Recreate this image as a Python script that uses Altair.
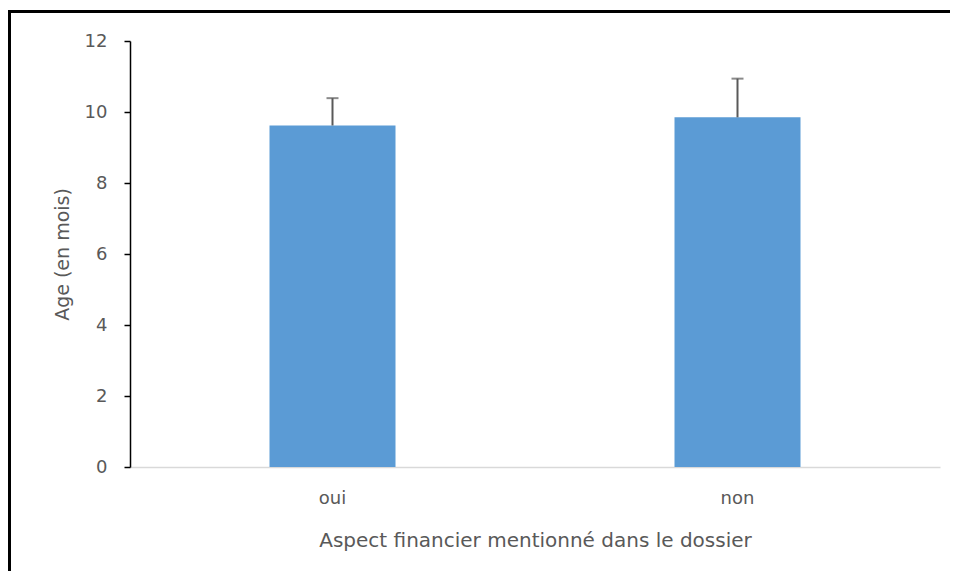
import altair as alt
import pandas as pd

categories = ["oui", "non"]
means = [9.62, 9.85]
errors = [0.77, 1.09]

df = pd.DataFrame({
    "cat": categories,
    "mean": means,
    "upper": [m + e for m, e in zip(means, errors)],
})

FONT = "DejaVu Sans"
GRAY = "#595959"

xenc = alt.X("cat:N", sort=categories, scale=alt.Scale(paddingInner=0, paddingOuter=0),
             axis=alt.Axis(title="Aspect financier mentionné dans le dossier", labelAngle=0,
                           domainColor="#d9d9d9", domainWidth=1.5, ticks=False,
                           labelColor=GRAY, labelFontSize=18, labelFont=FONT, labelPadding=22,
                           titleColor=GRAY, titleFontSize=20, titleFont=FONT, titleFontWeight="normal",
                           titlePadding=23))
yscale = alt.Scale(domain=[0, 12])

base = alt.Chart(df)

bars = base.mark_bar(color="#5B9BD5", size=126).encode(
    x=xenc,
    y=alt.Y("mean:Q", scale=yscale,
            axis=alt.Axis(title="Age  (en mois)", values=[0, 2, 4, 6, 8, 10, 12], grid=False,
                          domainColor="black", domainWidth=1.5, tickColor="black", tickWidth=1.5,
                          tickSize=6, labelColor=GRAY, labelFontSize=18, labelFont=FONT,
                          labelPadding=17, titleColor=GRAY, titleFontSize=19, titleFont=FONT,
                          titleFontWeight="normal", titlePadding=12)),
)

err = base.mark_rule(color=GRAY, strokeWidth=2).encode(
    x=alt.X("cat:N", sort=categories), y="mean:Q", y2="upper:Q")

cap = base.mark_tick(color=GRAY, thickness=2, size=12).encode(
    x=alt.X("cat:N", sort=categories), y=alt.Y("upper:Q", scale=yscale))

border_top = alt.Chart(pd.DataFrame({"a": [0]})).mark_rule(color="black", strokeWidth=3).encode(
    x=alt.value(-121), x2=alt.value(820), y=alt.value(-29.5))
border_left = alt.Chart(pd.DataFrame({"a": [0]})).mark_rule(color="black", strokeWidth=3).encode(
    x=alt.value(-120.5), y=alt.value(-31), y2=alt.value(530))

chart = alt.layer(bars, err, cap, border_top, border_left).properties(
    width=810, height=426,
    autosize=alt.AutoSizeParams(type="none"),
    padding={"left": 122, "top": 33, "right": 12, "bottom": 104},
).configure(background="white").configure_view(stroke=None, strokeWidth=0)

chart.save("out.html", embed_options={"renderer": "svg", "actions": False})
